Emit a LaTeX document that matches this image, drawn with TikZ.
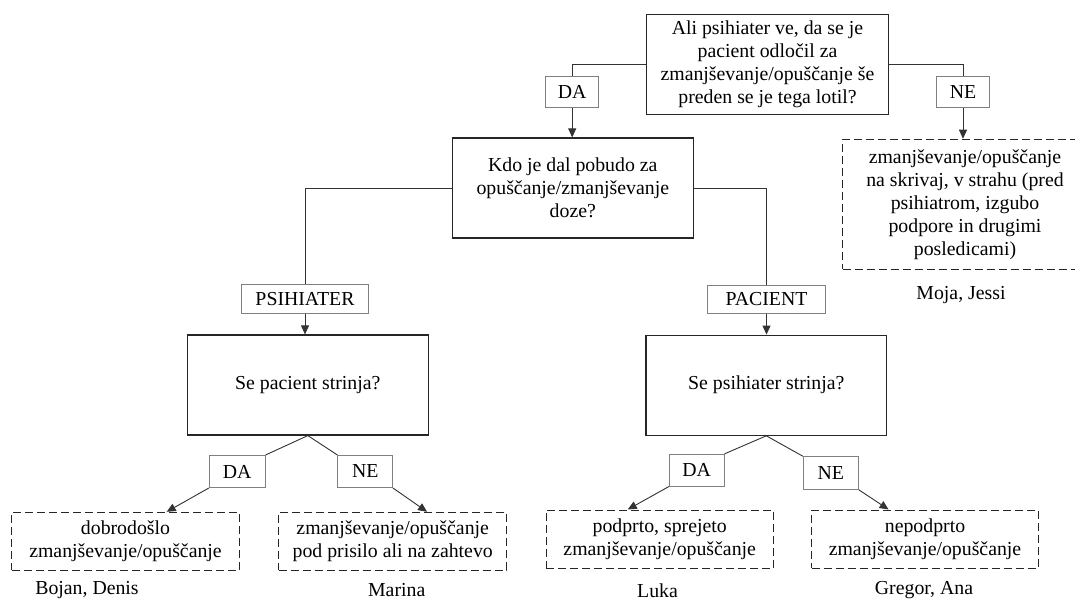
\documentclass[tikz,border=0pt]{standalone}
\usepackage{fontspec}
\setmainfont{Liberation Serif}
\usetikzlibrary{arrows.meta,calc}
\begin{document}
\begin{tikzpicture}[x=1pt,y=-1pt,
  every node/.style={font=\fontsize{19.8}{23}\selectfont, inner sep=0pt, align=center, text=black},
  qbox/.style={draw=black!85, line width=1.2pt, minimum width=#1, minimum height=100pt},
  lab/.style={draw=black!50, line width=1pt, minimum height=31pt},
  outbox/.style={draw=black!85, line width=1.1pt, dash pattern=on 8pt off 4pt},
  conn/.style={draw=black!80, line width=0.9pt},
  arr/.style={conn, -{Triangle[length=9pt,width=8pt]}},
]
\fill[white] (0,0) rectangle (1075,601);
\clip (0,0) rectangle (1075,601);
\useasboundingbox (0,0) rectangle (1075,601);

\node[qbox=241.6pt] (q1) at (767.5,64.3) {Ali psihiater ve, da se je\\pacient odločil za\\zmanjševanje/opuščanje še\\preden se je tega lotil?};
\node[lab, minimum width=53pt] (da1) at (572.2,92.2) {DA};
\node[lab, minimum width=53pt] (ne1) at (963,92.2) {NE};
\node[qbox=241pt] (q2) at (572.8,188) {Kdo je dal pobudo za\\opuščanje/zmanjševanje\\doze?};
\node[outbox, minimum width=244.6pt, minimum height=130pt] (o1) at (965,204.3) {zmanjševanje/opuščanje\\na skrivaj, v strahu (pred\\psihiatrom, izgubo\\podpore in drugimi\\posledicami)};
\node (n1) at (961,295) {Moja, Jessi};

\node[lab, minimum width=126.6pt, minimum height=29pt] (psi) at (305,299) {PSIHIATER};
\node[lab, minimum width=118.4pt, minimum height=28pt] (pac) at (766.5,299.5) {PACIENT};
\node[qbox=241pt] (q3) at (307.8,385) {Se pacient strinja?};
\node[qbox=240.7pt] (q4) at (766.3,385.2) {Se psihiater strinja?};

\node[lab, minimum width=55.7pt, minimum height=32pt] (da3) at (237.2,471.5) {DA};
\node[lab, minimum width=54.5pt, minimum height=32pt] (ne3) at (365.2,471.5) {NE};
\node[lab, minimum width=54.7pt, minimum height=31.7pt] (da4) at (696.7,470.2) {DA};
\node[lab, minimum width=55pt, minimum height=32.6pt] (ne4) at (830.8,473) {NE};

\node[outbox, minimum width=227.6pt, minimum height=57.7pt] (d1) at (125.5,541.2) {dobrodošlo\\zmanjševanje/opuščanje};
\node[outbox, minimum width=228pt, minimum height=57.7pt] (d2) at (392.7,541.2) {zmanjševanje/opuščanje\\pod prisilo ali na zahtevo};
\node[outbox, minimum width=227.3pt, minimum height=58.3pt] (d3) at (659.7,539.2) {podprto, sprejeto\\zmanjševanje/opuščanje};
\node[outbox, minimum width=226.6pt, minimum height=58.3pt] (d4) at (925,539.2) {nepodprto\\zmanjševanje/opuščanje};

\node (n2) at (87,590.5) {Bojan, Denis};
\node (n3) at (396.7,590.5) {Marina};
\node (n4) at (657.5,590.5) {Luka};
\node (n5) at (924,590.5) {Gregor, Ana};

\draw[conn] (q1.west) -| (da1.north);
\draw[arr] (da1.south) -- (da1.south |- q2.north);
\draw[conn] (q1.east) -| (ne1.north);
\draw[arr] (ne1.south) -- (ne1.south |- o1.north);
\draw[conn] (q2.west) -| (psi.north);
\draw[arr] (psi.south) -- (psi.south |- q3.north);
\draw[conn] (q2.east) -| (pac.north);
\draw[arr] (pac.south) -- (pac.south |- q4.north);
\draw[conn] (q3.south) -- (da3.north east);
\draw[conn] (q3.south) -- (ne3.north west);
\draw[arr] (da3.south west) -- ($(d1.north west)!0.68!(d1.north east)$);
\draw[arr] (ne3.south east) -- ($(d2.north west)!0.65!(d2.north east)$);
\draw[conn] (q4.south) -- (da4.north east);
\draw[conn] (q4.south) -- (ne4.north west);
\draw[arr] (da4.south west) -- ($(d3.north west)!0.36!(d3.north east)$);
\draw[arr] (ne4.south east) -- ($(d4.north west)!0.34!(d4.north east)$);
\end{tikzpicture}
\end{document}
